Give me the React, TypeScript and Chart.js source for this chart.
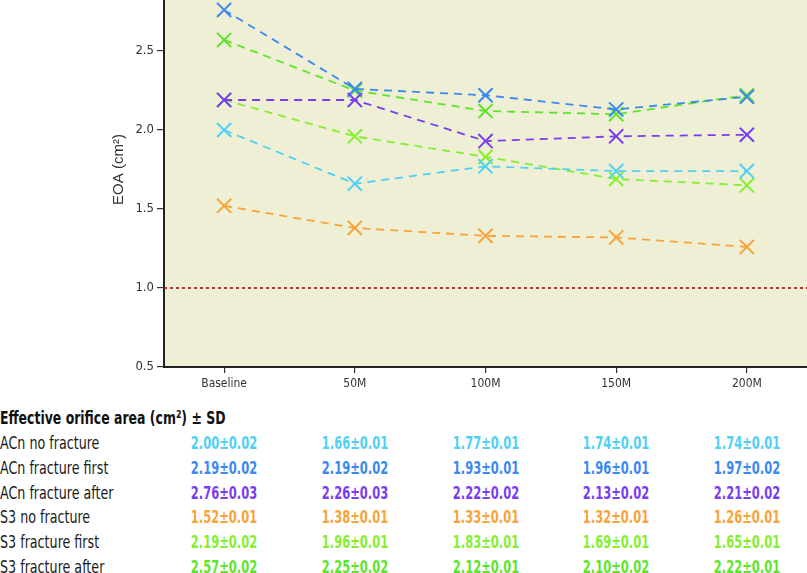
import React, { useEffect, useRef, useState } from "react";
import { Chart, registerables } from "chart.js";

Chart.register(...registerables);

const categories = ["Baseline", "50M", "100M", "150M", "200M"];
const yTickValues = [0.5, 1.0, 1.5, 2.0, 2.5];
const yMin = 0.5;
const yMax = 3.0;
const threshold = 1.0;

const acnNoFracture = [2.0, 1.66, 1.77, 1.74, 1.74];
const acnNoFractureSd = [0.02, 0.01, 0.01, 0.01, 0.01];
const acnFractureFirst = [2.19, 2.19, 1.93, 1.96, 1.97];
const acnFractureFirstSd = [0.02, 0.02, 0.01, 0.01, 0.02];
const acnFractureAfter = [2.76, 2.26, 2.22, 2.13, 2.21];
const acnFractureAfterSd = [0.03, 0.03, 0.02, 0.02, 0.02];
const s3NoFracture = [1.52, 1.38, 1.33, 1.32, 1.26];
const s3NoFractureSd = [0.01, 0.01, 0.01, 0.01, 0.01];
const s3FractureFirst = [2.19, 1.96, 1.83, 1.69, 1.65];
const s3FractureFirstSd = [0.02, 0.01, 0.01, 0.01, 0.01];
const s3FractureAfter = [2.57, 2.25, 2.12, 2.1, 2.22];
const s3FractureAfterSd = [0.02, 0.02, 0.01, 0.02, 0.01];

const LIGHT_BLUE = "#4fd0f4";
const BLUE = "#3b88f0";
const PURPLE = "#7a3cf0";
const ORANGE = "#f8a43a";
const LIGHT_GREEN = "#86ee30";
const GREEN = "#5ee52a";

const tableTitle = "Effective orifice area (cm²) ± SD";
const tableRows = [
  { label: "ACn no fracture", values: acnNoFracture, sd: acnNoFractureSd, color: LIGHT_BLUE },
  { label: "ACn fracture first", values: acnFractureFirst, sd: acnFractureFirstSd, color: BLUE },
  { label: "ACn fracture after", values: acnFractureAfter, sd: acnFractureAfterSd, color: PURPLE },
  { label: "S3 no fracture", values: s3NoFracture, sd: s3NoFractureSd, color: ORANGE },
  { label: "S3 fracture first", values: s3FractureFirst, sd: s3FractureFirstSd, color: LIGHT_GREEN },
  { label: "S3 fracture after", values: s3FractureAfter, sd: s3FractureAfterSd, color: GREEN },
];

// line colours as drawn in the plot
const plotSeries = [
  { label: "ACn no fracture", values: acnNoFracture, color: LIGHT_BLUE },
  { label: "ACn fracture first", values: acnFractureFirst, color: PURPLE },
  { label: "ACn fracture after", values: acnFractureAfter, color: BLUE },
  { label: "S3 no fracture", values: s3NoFracture, color: ORANGE },
  { label: "S3 fracture first", values: s3FractureFirst, color: LIGHT_GREEN },
  { label: "S3 fracture after", values: s3FractureAfter, color: GREEN },
];

const NARROW = "'Liberation Sans Narrow', 'DejaVu Sans Condensed', 'Arial Narrow', sans-serif";
const X_PAD = 0.46;

const bgPlugin = {
  id: "plotBg",
  beforeDraw(chart: any) {
    const { ctx, chartArea } = chart;
    ctx.save();
    ctx.fillStyle = "#eeefd5";
    ctx.fillRect(chartArea.left, chartArea.top, chartArea.right - chartArea.left, chartArea.bottom - chartArea.top);
    ctx.restore();
  },
};

export default function App() {
  const canvasRef = useRef<HTMLCanvasElement | null>(null);
  const [cols, setCols] = useState<number[]>([]);

  useEffect(() => {
    if (!canvasRef.current) return;
    const xMin = -X_PAD;
    const xMax = categories.length - 1 + X_PAD;
    const datasets: any[] = plotSeries.map((s) => ({
      label: s.label,
      data: s.values.map((v, i) => ({ x: i, y: v })),
      borderColor: s.color,
      backgroundColor: s.color,
      borderWidth: 1.8,
      borderDash: [8, 6],
      pointStyle: "crossRot",
      pointRadius: 10,
      pointBorderWidth: 2,
      pointBorderColor: s.color,
      fill: false,
      tension: 0,
      clip: false,
    }));
    datasets.push({
      label: "threshold",
      data: [
        { x: xMin, y: threshold },
        { x: xMax, y: threshold },
      ],
      borderColor: "#b01e24",
      borderWidth: 1.8,
      borderDash: [3, 3],
      pointRadius: 0,
      fill: false,
    });
    const chart = new Chart(canvasRef.current, {
      type: "line",
      data: { datasets },
      plugins: [bgPlugin],
      options: {
        animation: false,
        responsive: false,
        maintainAspectRatio: false,
        layout: { autoPadding: false, padding: { top: 0, right: 0, left: 0, bottom: 0 } },
        plugins: { legend: { display: false }, tooltip: { enabled: false } },
        scales: {
          x: {
            type: "linear",
            min: xMin,
            max: xMax,
            afterBuildTicks: (scale: any) => {
              scale.ticks = categories.map((_, i) => ({ value: i }));
            },
            afterFit: (scale: any) => {
              scale.height = 28;
              scale.paddingLeft = 0;
              scale.paddingRight = 0;
            },
            ticks: {
              callback: (v: any) => categories[v as number] ?? "",
              color: "#333",
              font: { family: NARROW, size: 12 },
              padding: 4,
              maxRotation: 0,
            },
            grid: { drawOnChartArea: false, drawTicks: true, tickLength: 6, color: "#333", lineWidth: 1.2 },
            border: { color: "#222", width: 2 },
          },
          y: {
            type: "linear",
            min: yMin,
            max: yMax,
            afterBuildTicks: (scale: any) => {
              scale.ticks = yTickValues.map((v) => ({ value: v }));
            },
            afterFit: (scale: any) => {
              scale.width = 164;
              scale.paddingTop = 0;
              scale.paddingBottom = 0;
            },
            ticks: {
              callback: (v: any) => Number(v).toFixed(1),
              color: "#333",
              font: { family: NARROW, size: 13 },
              padding: 3,
            },
            title: {
              display: true,
              text: "EOA (cm²)",
              color: "#333",
              font: { family: "'Liberation Sans', Arial, sans-serif", size: 15 },
              padding: { top: 110, bottom: 0 },
            },
            grid: { drawOnChartArea: false, drawTicks: true, tickLength: 7, color: "#333", lineWidth: 1.2 },
            border: { color: "#222", width: 2 },
          },
        },
      },
    });
    const xs = chart.scales.x as any;
    setCols(categories.map((_, i) => xs.getPixelForValue(i)));
    return () => chart.destroy();
  }, []);

  const rowTop = 431;
  const rowStep = 24.8;

  return (
    <div style={{ position: "absolute", left: 0, top: 0, width: 807, height: 573, overflow: "hidden", background: "#fff" }}>
      <div style={{ position: "absolute", left: 0, top: -28, width: 807, height: 423 }}>
        <canvas ref={canvasRef} width={807} height={423} style={{ width: 807, height: 423 }} />
      </div>
      <div
        style={{
          position: "absolute",
          left: 0,
          top: 406,
          height: 24,
          lineHeight: "24px",
          fontFamily: NARROW,
          fontWeight: "bold",
          fontSize: 18,
          color: "#111",
          whiteSpace: "nowrap",
          transform: "scaleX(0.77)",
          transformOrigin: "0 50%",
        }}
      >
        {tableTitle}
      </div>
      {tableRows.map((r, ri) => (
        <React.Fragment key={r.label}>
          <div
            style={{
              position: "absolute",
              left: 0,
              top: rowTop + ri * rowStep,
              height: 24,
              lineHeight: "24px",
              fontFamily: NARROW,
              fontSize: 17,
              color: "#1a1a1a",
              whiteSpace: "nowrap",
              transform: "scaleX(0.83)",
              transformOrigin: "0 50%",
            }}
          >
            {r.label}
          </div>
          {cols.map((cx, ci) => (
            <div
              key={ci}
              style={{
                position: "absolute",
                left: cx - 60,
                width: 120,
                textAlign: "center",
                top: rowTop + ri * rowStep,
                height: 24,
                lineHeight: "24px",
                fontFamily: NARROW,
                fontWeight: "bold",
                fontSize: 18,
                color: r.color,
                whiteSpace: "nowrap",
                transform: "scaleX(0.71)",
                transformOrigin: "50% 50%",
              }}
            >
              {r.values[ci].toFixed(2)}±{r.sd[ci].toFixed(2)}
            </div>
          ))}
        </React.Fragment>
      ))}
    </div>
  );
}
